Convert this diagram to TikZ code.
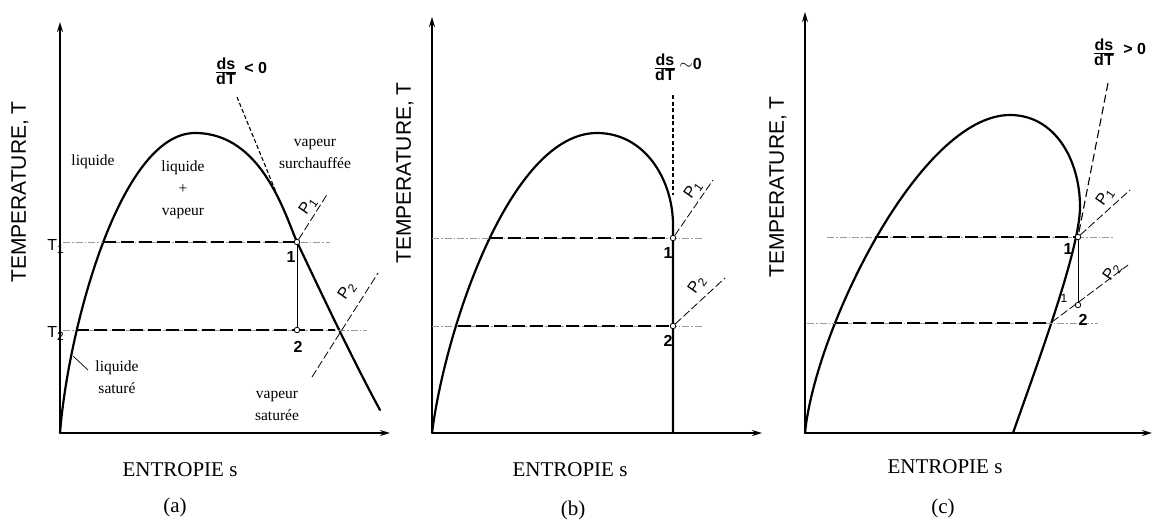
\documentclass[tikz,border=0pt]{standalone}
\usepackage{fontspec}
\setmainfont{Liberation Serif}
\setsansfont{Liberation Sans}
\usetikzlibrary{arrows.meta,positioning}

\newcommand{\sbi}[1]{\raisebox{-3pt}{\fontsize{12}{12}\selectfont #1}}

\begin{document}
\begin{tikzpicture}[x=1pt,y=-1pt,>=Stealth,
    % ---- styles ----
    AX/.style={line width=1.6pt, -{Stealth[length=10pt, width=6pt]}},
    DOME/.style={line width=2.2pt, line join=round, line cap=round},
    ISO/.style={line width=1.4pt, dash pattern=on 13pt off 5pt},
    GUIDE/.style={line width=0.6pt, black!40, dash pattern=on 7pt off 2pt on 1.5pt off 2pt},
    TAN/.style={line width=1.1pt, dash pattern=on 4pt off 2.5pt},
    PR/.style={line width=0.8pt, dash pattern=on 8pt off 3pt},
    PT/.style={circle, draw, fill=white, inner sep=0pt, minimum size=5.5pt, line width=0.8pt},
    YL/.style={font=\sffamily\fontsize{21}{21}\selectfont, rotate=90, inner sep=0pt},
    XL/.style={font=\fontsize{21}{21}\selectfont, inner sep=0pt},
    R/.style={font=\fontsize{15.5}{22}\selectfont, align=center, inner sep=0pt},
    NUM/.style={font=\sffamily\bfseries\fontsize{16}{16}\selectfont, inner sep=0pt},
    TL/.style={font=\sffamily\fontsize{16}{16}\selectfont, inner sep=0pt, anchor=east},
    PL/.style={font=\sffamily\fontsize{16}{16}\selectfont, rotate=55, inner sep=0pt},
    DS/.style={font=\sffamily\bfseries\fontsize{16}{16}\selectfont, inner sep=0pt},
]
\useasboundingbox (0,0) rectangle (1154,523);

% ===== Panel (a): ds/dT < 0 =====
\coordinate (oa) at (60,433);
\draw[AX] (oa) -- (60,22);
\draw[AX] (oa) -- (390,433);
\draw[DOME] (oa) .. controls (68,330) and (120,133) .. (195,133)
    .. controls (262,133) and (285,215) .. (297,242)
    .. controls (309,267) and (350,355) .. (380,410);

% isotherms
\draw[GUIDE] (63,242) -- (330,242);
\draw[GUIDE] (63,330) -- (367,330);
\draw[ISO] (103,242) -- (297,242);
\draw[ISO] (76,330) -- (335,330);

% expansion 1 -> 2
\node[PT] (a1) at (297,242) {};
\node[PT] (a2) at (297,330) {};
\draw[line width=1pt] (a1) -- (a2);
\node[NUM] (a1l) at (291,257) {1};
\node[NUM] (a2l) at (298,347) {2};

% tangent and isobars
\draw[TAN] (237,97) -- (276,192);
\node[DS] (dsa) at (226,71) {$\frac{\mbox{ds}}{\mbox{dT}}$};
\node[DS, right=7pt of dsa, yshift=3pt] (dsa0) {< 0};
\draw[PR] (a1) -- (328,193);
\node[PL] (pa1) at (308,206) {P\sbi{1}};
\draw[PR] (312,377) -- (378,273);
\node[PL] (pa2) at (347,291) {P\sbi{2}};

% temperatures
\node[TL] (ta1) at (64,246) {T\sbi{1}};
\node[TL] (ta2) at (64,333) {T\sbi{2}};

% regions
\node[R] (liq)  at (93,162)  {liquide};
\node[R] (mix)  at (183,190) {liquide\\+\\vapeur};
\node[R] (surc) at (315,154) {vapeur\\surchauffée};
\node[R] (lsat) at (117,377) {liquide\\saturé};
\node[R] (vsat) at (277,406) {vapeur\\saturée};
\draw[line width=0.7pt] (73,356) -- (88,370);

\node[YL] (ya) at (20,192) {TEMPERATURE, T};
\node[XL] (xa) at (180,470) {ENTROPIE s};
\node[XL] (ca) at (175,507) {(a)};

% ===== Panel (b): ds/dT ~ 0 =====
\coordinate (ob) at (432,433);
\draw[AX] (ob) -- (432,17);
\draw[AX] (ob) -- (762,433);
\draw[DOME] (ob) .. controls (445,330) and (510,133) .. (597,133)
    .. controls (645,133) and (673,180) .. (673,225) -- (673,433);

% isotherms
\draw[GUIDE] (432,238) -- (703,238);
\draw[GUIDE] (432,326) -- (703,326);
\draw[ISO] (490,238) -- (673,238);
\draw[ISO] (458,326) -- (673,326);

\node[PT] (b1) at (673,238) {};
\node[PT] (b2) at (673,326) {};
\node[NUM] (b1l) at (668,253) {1};
\node[NUM] (b2l) at (668,341) {2};

% tangent and isobars
\draw[TAN] (673,95) -- (673,195);
\node[DS] (dsb) at (665,67) {$\frac{\mbox{ds}}{\mbox{dT}}$};
\node[DS, right=3pt of dsb, yshift=3pt] (dsb0) {$\sim$0};
\draw[PR] (b1) -- (713,180);
\node[PL] (pb1) at (693,190) {P\sbi{1}};
\draw[PR] (b2) -- (725,278);
\node[PL] (pb2) at (697,285) {P\sbi{2}};

\node[YL] (yb) at (405,173) {TEMPERATURE, T};
\node[XL] (xb) at (570,470) {ENTROPIE s};
\node[XL] (cb) at (573,510) {(b)};

% ===== Panel (c): ds/dT > 0 =====
\coordinate (oc) at (805,433);
\draw[AX] (oc) -- (805,12);
\draw[AX] (oc) -- (1152,433);
\draw[DOME] (oc) .. controls (815,330) and (920,115) .. (1010,115)
    .. controls (1055,115) and (1080,160) .. (1080,207)
    .. controls (1080,250) and (1035,370) .. (1013,433);

% isotherms
\draw[GUIDE] (827,237) -- (1113,237);
\draw[GUIDE] (807,323) -- (1098,323);
\draw[ISO] (875,237) -- (1078,237);
\draw[ISO] (835,323) -- (1050,323);

\node[PT] (c1) at (1078,237) {};
\node[PT] (c2) at (1078,305) {};
\draw[line width=1pt] (c1) -- (c2);
\node[NUM] (c1l) at (1068,249) {1};
\node[NUM, font=\sffamily\fontsize{12}{12}\selectfont] (c1m) at (1064,298) {1};
\node[NUM] (c2l) at (1083,320) {2};

% tangent and isobars
\draw[TAN, dash pattern=on 8pt off 4pt] (1108,83) -- (c1);
\node[DS] (dsc) at (1104,52) {$\frac{\mbox{ds}}{\mbox{dT}}$};
\node[DS, right=8pt of dsc, yshift=3pt] (dsc0) {> 0};
\draw[PR] (c1) -- (1130,190);
\node[PL] (pc1) at (1105,197) {P\sbi{1}};
\draw[PR] (1052,322) -- (1128,265);
\node[PL] (pc2) at (1112,272) {P\sbi{2}};

\node[YL] (yc) at (778,187) {TEMPERATURE, T};
\node[XL] (xc) at (945,467) {ENTROPIE s};
\node[XL] (cc) at (943,508) {(c)};

\end{tikzpicture}
\end{document}
